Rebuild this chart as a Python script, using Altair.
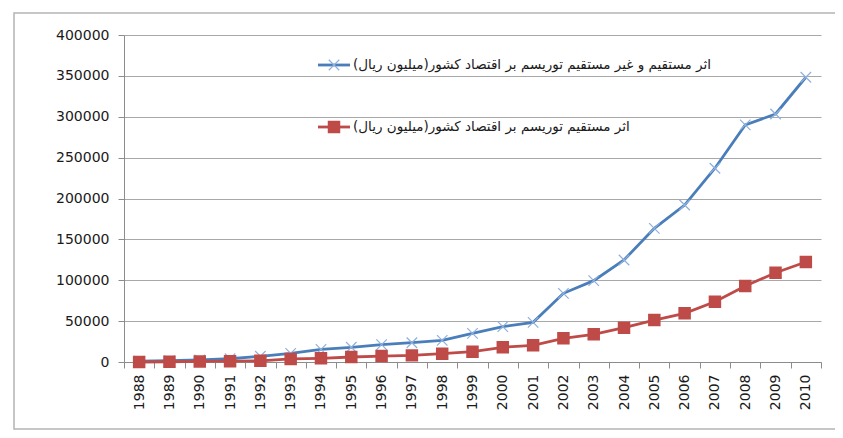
import altair as alt
import pandas as pd

years = [str(y) for y in range(1988, 2011)]
total_effect = [1000, 1500, 2500, 4000, 7000, 10600, 15500, 18000, 21200, 23600, 26500,
                35100, 43200, 48500, 84000, 99500, 124800, 163500, 192000, 237000,
                290000, 303400, 348300]
direct_effect = [0, 300, 700, 1000, 1500, 3700, 4500, 6100, 7300, 8100, 10200,
                 12600, 18000, 20400, 29000, 33800, 42000, 51300, 59500, 73700,
                 92900, 109200, 122300]
series_names = [
    "اثر مستقیم و غیر مستقیم توریسم بر اقتصاد کشور(میلیون ریال)",
    "اثر مستقیم توریسم بر اقتصاد کشور(میلیون ریال)",
]
y_ticks = [0, 50000, 100000, 150000, 200000, 250000, 300000, 350000, 400000]

rows = []
for i, y in enumerate(years):
    rows.append({"year": y, "value": total_effect[i], "series": series_names[0]})
    rows.append({"year": y, "value": direct_effect[i], "series": series_names[1]})
df = pd.DataFrame(rows)
one = pd.DataFrame({"k": [0]})

BLUE = "#4a7ebb"
BLUE_LIGHT = "#8fb0dc"
RED = "#be4b48"
GRID = "#a8a8a8"
AXIS = "#8c8c8c"
FONT = "DejaVu Sans"

x_enc = alt.X(
    "year:O",
    sort=years,
    bandPosition=0.5,
    scale=alt.Scale(type="band", paddingInner=0, paddingOuter=0),
    axis=alt.Axis(
        title=None, labelAngle=-90, tickBand="extent", grid=False,
        domainColor=AXIS, tickColor=AXIS, tickSize=6, labelPadding=6,
        labelFont=FONT, labelFontSize=14, labelColor="#1a1a1a",
    ),
)
y_enc = alt.Y(
    "value:Q",
    scale=alt.Scale(domain=[0, 400000], nice=False),
    axis=alt.Axis(
        title=None, values=y_ticks, format="d", grid=True, gridColor=GRID,
        domainColor=AXIS, tickColor=AXIS, tickSize=6, labelPadding=9,
        labelFont=FONT, labelFontSize=14, labelColor="#1a1a1a",
    ),
)

base = alt.Chart(df)
FRAME = "#b4b4b4"
frame = alt.Chart(one).mark_rect(fill="transparent", stroke=FRAME, strokeWidth=1.5).encode(
    x=alt.value(-110), x2=alt.value(1500), y=alt.value(-22), y2=alt.value(394)
)

lines = base.mark_line(strokeWidth=2.8).encode(
    x=x_enc, y=y_enc,
    color=alt.Color("series:N", scale=alt.Scale(domain=series_names, range=[BLUE, RED]), legend=None),
)

x_path = "M-1,-1L1,1M-1,1L1,-1"
crosses = base.transform_filter(alt.datum.series == series_names[0]).mark_point(
    shape=x_path, filled=False, stroke=BLUE_LIGHT, strokeWidth=1.2, size=110, opacity=1
).encode(x=x_enc, y=y_enc)

squares = base.transform_filter(alt.datum.series == series_names[1]).mark_point(
    shape="square", filled=True, fill=RED, stroke=RED, size=110, opacity=1
).encode(x=x_enc, y=y_enc)

# manual legend (decoration positions in pixels, relative to plot area)
LX0, LX1, LXT = 194, 226, 229
LY = [30, 92]
LFS = 13.5
leg_line1 = alt.Chart(one).mark_rule(stroke=BLUE, strokeWidth=2.8).encode(
    x=alt.value(LX0), x2=alt.value(LX1), y=alt.value(LY[0]), y2=alt.value(LY[0]))
leg_mark1 = alt.Chart(one).mark_point(shape=x_path, filled=False, stroke=BLUE_LIGHT,
                                      strokeWidth=1.2, size=110, opacity=1).encode(
    x=alt.value((LX0 + LX1) / 2), y=alt.value(LY[0]))
leg_text1 = alt.Chart(one).mark_text(align="left", baseline="middle", font=FONT,
                                     fontSize=LFS, color="#1a1a1a").encode(
    x=alt.value(LXT), y=alt.value(LY[0]), text=alt.value(series_names[0]))
leg_line2 = alt.Chart(one).mark_rule(stroke=RED, strokeWidth=2.8).encode(
    x=alt.value(LX0), x2=alt.value(LX1), y=alt.value(LY[1]), y2=alt.value(LY[1]))
leg_mark2 = alt.Chart(one).mark_point(shape="square", filled=True, fill=RED, stroke=RED,
                                      size=110, opacity=1).encode(
    x=alt.value((LX0 + LX1) / 2), y=alt.value(LY[1]))
leg_text2 = alt.Chart(one).mark_text(align="left", baseline="middle", font=FONT,
                                     fontSize=LFS, color="#1a1a1a").encode(
    x=alt.value(LXT), y=alt.value(LY[1]), text=alt.value(series_names[1]))

chart = alt.layer(
    frame, lines, crosses, squares,
    leg_line1, leg_mark1, leg_text1, leg_line2, leg_mark2, leg_text2,
).properties(
    width=697, height=327,
    padding={"left": 116, "top": 27, "right": 14, "bottom": 68},
    autosize=alt.AutoSizeParams(type="none"),
    background="white",
).configure_view(stroke=None)

chart.save("out.html", embed_options={"renderer": "svg", "actions": False})
